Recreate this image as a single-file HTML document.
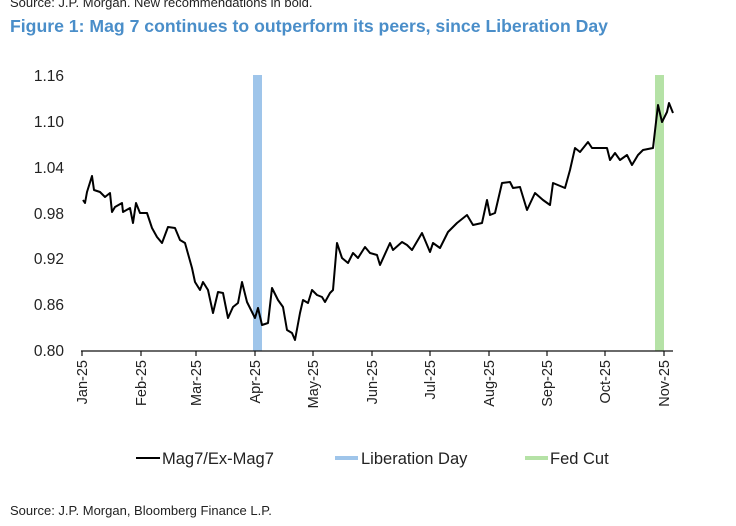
<!DOCTYPE html>
<html><head><meta charset="utf-8"><style>
body{margin:0;background:#fff;width:736px;height:526px;overflow:hidden;font-family:"Liberation Sans Narrow","Liberation Sans",sans-serif}
svg{position:absolute;left:0;top:0}
</style></head><body>
<svg width="736" height="526" viewBox="0 0 736 526" xmlns="http://www.w3.org/2000/svg" font-family="'Liberation Sans Narrow','Liberation Sans',sans-serif">
<text x="10" y="7" font-size="13" fill="#222">Source: J.P. Morgan. New recommendations in bold.</text>
<text x="10" y="32" font-size="17.5" font-weight="bold" fill="#4a8ec9" font-family="'Liberation Sans',sans-serif" textLength="598" lengthAdjust="spacingAndGlyphs">Figure 1: Mag 7 continues to outperform its peers, since Liberation Day</text>
<rect x="253" y="75" width="9" height="276" fill="#9fc5ea"/>
<rect x="655" y="75" width="9" height="276" fill="#b5e2a6"/>
<g font-size="15.5" fill="#222" text-anchor="end">
<text x="64" y="81">1.16</text><text x="64" y="127">1.10</text><text x="64" y="173">1.04</text><text x="64" y="219">0.98</text><text x="64" y="264">0.92</text><text x="64" y="310">0.86</text><text x="64" y="356">0.80</text>
</g>
<line x1="81" y1="351" x2="673" y2="351" stroke="#111" stroke-width="1.3"/>
<g stroke="#111" stroke-width="1.2">
<line x1="82" y1="351" x2="82" y2="356"/><line x1="141" y1="351" x2="141" y2="356"/><line x1="196" y1="351" x2="196" y2="356"/><line x1="255" y1="351" x2="255" y2="356"/><line x1="313" y1="351" x2="313" y2="356"/><line x1="372" y1="351" x2="372" y2="356"/><line x1="430" y1="351" x2="430" y2="356"/><line x1="489" y1="351" x2="489" y2="356"/><line x1="547" y1="351" x2="547" y2="356"/><line x1="605" y1="351" x2="605" y2="356"/><line x1="664" y1="351" x2="664" y2="356"/>
</g>
<g font-size="14.5" fill="#222" text-anchor="end">
<text transform="translate(87,360) rotate(-90)">Jan-25</text>
<text transform="translate(146,360) rotate(-90)">Feb-25</text>
<text transform="translate(201,360) rotate(-90)">Mar-25</text>
<text transform="translate(260,360) rotate(-90)">Apr-25</text>
<text transform="translate(318,360) rotate(-90)">May-25</text>
<text transform="translate(377,360) rotate(-90)">Jun-25</text>
<text transform="translate(435,360) rotate(-90)">Jul-25</text>
<text transform="translate(494,360) rotate(-90)">Aug-25</text>
<text transform="translate(552,360) rotate(-90)">Sep-25</text>
<text transform="translate(610,360) rotate(-90)">Oct-25</text>
<text transform="translate(669,360) rotate(-90)">Nov-25</text>
</g>
<polyline fill="none" stroke="#000" stroke-width="2" stroke-linejoin="round" points="83,200 85,203 87,192 92,176 94,190 100,192 105,197 110,193 112,212 115,207 122,203 123,212 130,208 133,223 136,203 140,213 147,213 152,228 157,237 162,243 168,227 175,228 180,240 185,243 192,268 195,282 200,290 203,282 208,290 213,313 218,292 223,293 228,318 233,307 238,303 242,282 247,302 252,312 255,318 258,308 262,325 268,323 272,288 278,300 283,307 287,330 292,333 295,340 300,313 303,300 308,303 312,290 317,295 322,297 325,302 330,293 333,290 337,243 342,258 348,263 353,253 358,258 365,247 370,253 377,255 380,265 390,243 393,250 402,242 407,245 412,250 422,233 430,252 433,243 440,248 448,232 457,223 467,215 473,225 482,223 487,200 490,215 495,213 502,183 510,182 513,188 520,187 527,210 535,193 543,200 550,205 553,183 565,188 570,170 575,148 580,152 588,142 592,148 607,148 610,160 615,153 620,160 627,155 632,165 638,155 643,150 653,148 658,105 662,122 667,112 669,103 673,113"/>
<g font-size="16.5" fill="#222">
<line x1="136" y1="458" x2="160" y2="458" stroke="#000" stroke-width="2"/>
<text x="162" y="464">Mag7/Ex-Mag7</text>
<line x1="335" y1="458" x2="358" y2="458" stroke="#9fc5ea" stroke-width="4"/>
<text x="361" y="464">Liberation Day</text>
<line x1="525" y1="458" x2="548" y2="458" stroke="#b5e2a6" stroke-width="4"/>
<text x="550" y="464">Fed Cut</text>
</g>
<text x="10" y="515" font-size="13" fill="#222">Source: J.P. Morgan, Bloomberg Finance L.P.</text>
</svg>
</body></html>
